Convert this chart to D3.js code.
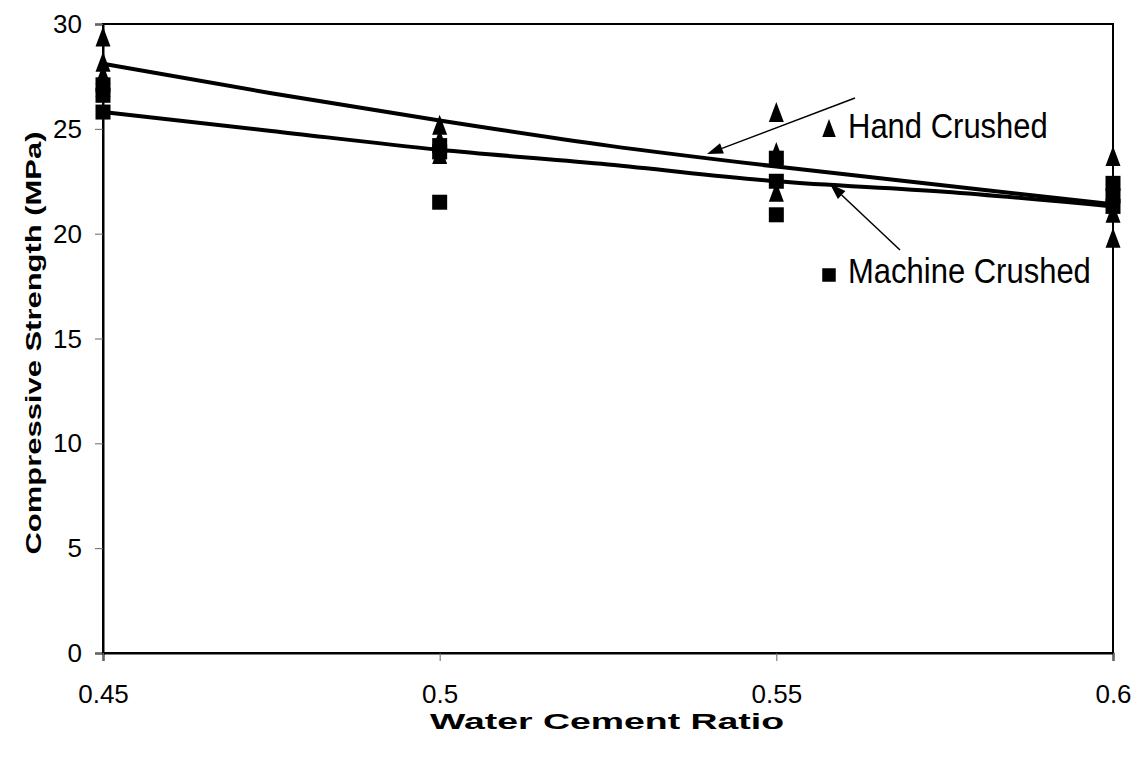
<!DOCTYPE html>
<html>
<head>
<meta charset="utf-8">
<script src="https://cdn.jsdelivr.net/npm/d3@7"></script>
<style>
  body { margin: 0; background: #fff; }
  svg { font-family: "Liberation Sans", Arial, sans-serif; }
</style>
</head>
<body>
<div id="chart"></div>
<script>
// measured points
var handX = [0.45, 0.45, 0.45, 0.45, 0.5, 0.5, 0.5, 0.55, 0.55, 0.55, 0.6, 0.6, 0.6];
var handY = [29.4, 28.2, 27.6, 27.0, 25.2, 24.5, 23.8, 25.8, 23.9, 22.0, 23.7, 21.0, 19.8];
var machX = [0.45, 0.45, 0.45, 0.5, 0.5, 0.5, 0.55, 0.55, 0.55, 0.6, 0.6, 0.6];
var machY = [27.1, 26.6, 25.8, 24.2, 23.9, 21.5, 23.6, 22.5, 20.9, 22.4, 21.8, 21.3];

// trend lines
var trendX = [0.45, 0.475, 0.5, 0.525, 0.55, 0.575, 0.6];
var handTrend = [28.1, 26.7, 25.4, 24.2, 23.2, 22.3, 21.4];
var machTrend = [25.8, 24.9, 24.0, 23.3, 22.5, 22.0, 21.3];

var xTicks = [0.45, 0.5, 0.55, 0.6];
var yTicks = [0, 5, 10, 15, 20, 25, 30];

var width = 1141, height = 760;
var pLeft = 103, pRight = 1113, pTop = 24, pBottom = 653;

var svg = d3.select("#chart").append("svg")
  .attr("width", width)
  .attr("height", height);

var x = d3.scaleLinear().domain([0.45, 0.6]).range([pLeft, pRight]);
var y = d3.scaleLinear().domain([0, 30]).range([pBottom, pTop]);

// frame
svg.append("rect")
  .attr("x", pLeft).attr("y", pTop)
  .attr("width", pRight - pLeft).attr("height", pBottom - pTop)
  .attr("fill", "none").attr("stroke", "#000").attr("stroke-width", 2);

// y axis
var yAxis = svg.append("g")
  .attr("transform", "translate(" + pLeft + ",0)")
  .call(d3.axisLeft(y).tickValues(yTicks).tickSize(8).tickFormat(d3.format("d")));
yAxis.select(".domain").attr("stroke", "#000").attr("stroke-width", 2);
yAxis.selectAll(".tick line").attr("stroke", "#666").attr("stroke-width", 1);
yAxis.selectAll(".tick text")
  .attr("font-size", 26).attr("fill", "#000")
  .attr("x", -21).attr("dy", "0.33em")
  .style("font-family", "Liberation Sans, Arial, sans-serif");

// x axis
var xAxis = svg.append("g")
  .attr("transform", "translate(0," + pBottom + ")")
  .call(d3.axisBottom(x).tickValues(xTicks).tickSize(8).tickFormat(function (d) { return String(d); }));
xAxis.select(".domain").attr("stroke", "#000").attr("stroke-width", 2);
xAxis.selectAll(".tick line").attr("stroke", "#666").attr("stroke-width", 1);
xAxis.selectAll(".tick text")
  .attr("font-size", 26).attr("fill", "#000")
  .attr("y", 32)
  .style("font-family", "Liberation Sans, Arial, sans-serif");

// axis titles (the original glyphs are wide, so stretch them)
svg.append("text")
  .attr("x", 607).attr("y", 729)
  .attr("text-anchor", "middle")
  .attr("font-size", 22).attr("font-weight", "bold")
  .attr("textLength", 354).attr("lengthAdjust", "spacingAndGlyphs")
  .text("Water Cement Ratio");

svg.append("text")
  .attr("transform", "translate(41,343) rotate(-90)")
  .attr("text-anchor", "middle")
  .attr("font-size", 22).attr("font-weight", "bold")
  .attr("textLength", 423).attr("lengthAdjust", "spacingAndGlyphs")
  .text("Compressive Strength (MPa)");

// trend lines
var line = d3.line()
  .x(function (d) { return x(d[0]); })
  .y(function (d) { return y(d[1]); })
  .curve(d3.curveMonotoneX);

svg.append("path")
  .datum(d3.zip(trendX, handTrend))
  .attr("d", line)
  .attr("fill", "none").attr("stroke", "#000").attr("stroke-width", 4);

svg.append("path")
  .datum(d3.zip(trendX, machTrend))
  .attr("d", line)
  .attr("fill", "none").attr("stroke", "#000").attr("stroke-width", 4);

// markers: tall triangle and square
var tri = "M0,-10L7.5,10L-7.5,10Z";
var sq = "M-7.5,-7.5H7.5V7.5H-7.5Z";

svg.selectAll(".hand")
  .data(d3.zip(handX, handY))
  .enter().append("path")
  .attr("class", "hand")
  .attr("d", tri)
  .attr("transform", function (d) { return "translate(" + x(d[0]) + "," + y(d[1]) + ")"; })
  .attr("fill", "#000");

svg.selectAll(".mach")
  .data(d3.zip(machX, machY))
  .enter().append("path")
  .attr("class", "mach")
  .attr("d", sq)
  .attr("transform", function (d) { return "translate(" + x(d[0]) + "," + y(d[1]) + ")"; })
  .attr("fill", "#000");

// callout arrows
function arrow(x1, y1, x2, y2) {
  var a = Math.atan2(y2 - y1, x2 - x1);
  var len = 16, half = 5.5;
  var bx = x2 - len * Math.cos(a), by = y2 - len * Math.sin(a);
  svg.append("line")
    .attr("x1", x1).attr("y1", y1).attr("x2", bx).attr("y2", by)
    .attr("stroke", "#000").attr("stroke-width", 1.5);
  svg.append("path")
    .attr("d", "M" + x2 + "," + y2 +
      "L" + (bx + half * Math.sin(a)) + "," + (by - half * Math.cos(a)) +
      "L" + (bx - half * Math.sin(a)) + "," + (by + half * Math.cos(a)) + "Z")
    .attr("fill", "#000");
}
arrow(855, 98, 707, 154);
arrow(900, 250, 830, 184);

svg.append("path")
  .attr("d", tri)
  .attr("transform", "translate(829,128) scale(0.9)")
  .attr("fill", "#000");
svg.append("text")
  .attr("transform", "translate(848,138) scale(1,1.15)")
  .attr("font-size", 31)
  .text("Hand Crushed");

svg.append("path")
  .attr("d", sq)
  .attr("transform", "translate(829,275) scale(0.9)")
  .attr("fill", "#000");
svg.append("text")
  .attr("transform", "translate(848,283) scale(1,1.15)")
  .attr("font-size", 31)
  .text("Machine Crushed");
</script>
</body>
</html>
